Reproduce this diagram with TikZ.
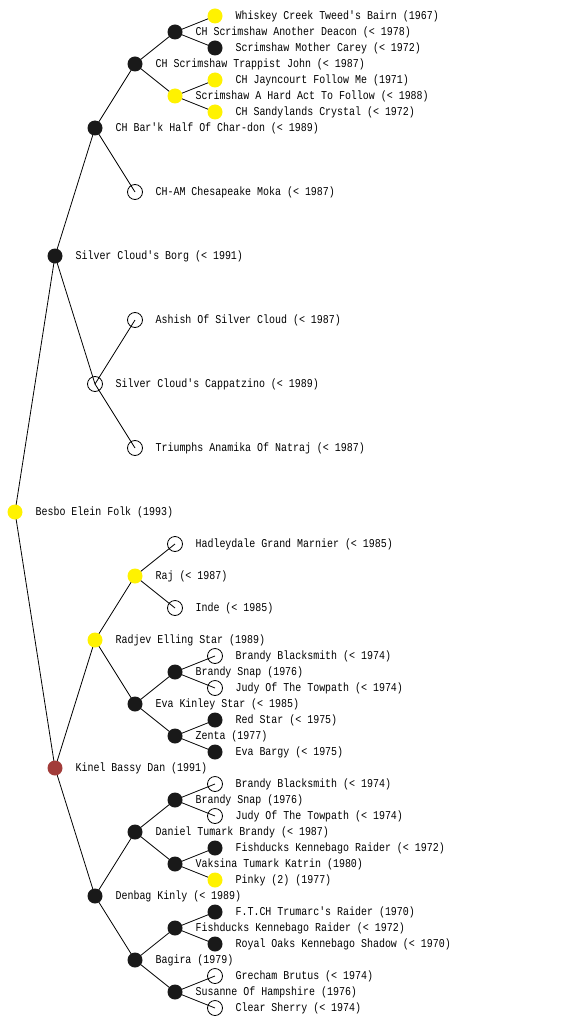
\documentclass[tikz,border=0pt]{standalone}
\usepackage{fontspec}
\newfontfamily\pedfont[FakeStretch=0.83]{Liberation Mono}
\usetikzlibrary{positioning,backgrounds}
\definecolor{kinel}{HTML}{A23C3A}

\begin{document}
\begin{tikzpicture}[
        x=1pt, y=-1pt,
        font=\pedfont\fontsize{12}{14}\selectfont,
        dog/.style={circle, minimum size=15pt, inner sep=0pt, line width=0.8pt},
        opn/.style={dog, draw=black},
        yel/.style={dog, fill=yellow},
        blk/.style={dog, fill=black!90},
        brn/.style={dog, fill=kinel},
        txt/.style={inner sep=0pt, anchor=west},
        edge/.style={line width=0.8pt}
      ]
        \begin{scope}[on background layer]
          \fill[white] (0,0) rectangle (560,1024);
        \end{scope}
        \useasboundingbox (0,0) rectangle (560,1024);

        % generation 0
        \node[yel] (dog) at (15,512) {};
        % generation 1
        \node[blk] (s) at (55,256) {};
        \node[brn] (d) at (55,768) {};
        % generation 2
        \node[blk] (ss) at (95,128) {};
        \node[opn] (sd) at (95,384) {};
        \node[yel] (ds) at (95,640) {};
        \node[blk] (dd) at (95,896) {};
        % generation 3
        \node[blk] (sss) at (135,64) {};
        \node[opn] (ssd) at (135,192) {};
        \node[opn] (sds) at (135,320) {};
        \node[opn] (sdd) at (135,448) {};
        \node[yel] (dss) at (135,576) {};
        \node[blk] (dsd) at (135,704) {};
        \node[blk] (dds) at (135,832) {};
        \node[blk] (ddd) at (135,960) {};
        % generation 4
        \node[blk] (ssss) at (175,32) {};
        \node[yel] (sssd) at (175,96) {};
        \node[opn] (dsss) at (175,544) {};
        \node[opn] (dssd) at (175,608) {};
        \node[blk] (dsds) at (175,672) {};
        \node[blk] (dsdd) at (175,736) {};
        \node[blk] (ddss) at (175,800) {};
        \node[blk] (ddsd) at (175,864) {};
        \node[blk] (ddds) at (175,928) {};
        \node[blk] (dddd) at (175,992) {};
        % generation 5
        \node[yel] (sssss) at (215,16) {};
        \node[blk] (ssssd) at (215,48) {};
        \node[yel] (sssds) at (215,80) {};
        \node[yel] (sssdd) at (215,112) {};
        \node[opn] (dsdss) at (215,656) {};
        \node[opn] (dsdsd) at (215,688) {};
        \node[blk] (dsdds) at (215,720) {};
        \node[blk] (dsddd) at (215,752) {};
        \node[opn] (ddsss) at (215,784) {};
        \node[opn] (ddssd) at (215,816) {};
        \node[blk] (ddsds) at (215,848) {};
        \node[yel] (ddsdd) at (215,880) {};
        \node[blk] (dddss) at (215,912) {};
        \node[blk] (dddsd) at (215,944) {};
        \node[opn] (dddds) at (215,976) {};
        \node[opn] (ddddd) at (215,1008) {};

        % names
        \node[txt, right=12.5pt of dog] (dog-l) {Besbo Elein Folk (1993)};
        \node[txt, right=12.5pt of s] (s-l) {Silver Cloud's Borg (< 1991)};
        \node[txt, right=12.5pt of d] (d-l) {Kinel Bassy Dan (1991)};
        \node[txt, right=12.5pt of ss] (ss-l) {CH Bar'k Half Of Char-don (< 1989)};
        \node[txt, right=12.5pt of sd] (sd-l) {Silver Cloud's Cappatzino (< 1989)};
        \node[txt, right=12.5pt of ds] (ds-l) {Radjev Elling Star (1989)};
        \node[txt, right=12.5pt of dd] (dd-l) {Denbag Kinly (< 1989)};
        \node[txt, right=12.5pt of sss] (sss-l) {CH Scrimshaw Trappist John (< 1987)};
        \node[txt, right=12.5pt of ssd] (ssd-l) {CH-AM Chesapeake Moka (< 1987)};
        \node[txt, right=12.5pt of sds] (sds-l) {Ashish Of Silver Cloud (< 1987)};
        \node[txt, right=12.5pt of sdd] (sdd-l) {Triumphs Anamika Of Natraj (< 1987)};
        \node[txt, right=12.5pt of dss] (dss-l) {Raj (< 1987)};
        \node[txt, right=12.5pt of dsd] (dsd-l) {Eva Kinley Star (< 1985)};
        \node[txt, right=12.5pt of dds] (dds-l) {Daniel Tumark Brandy (< 1987)};
        \node[txt, right=12.5pt of ddd] (ddd-l) {Bagira (1979)};
        \node[txt, right=12.5pt of ssss] (ssss-l) {CH Scrimshaw Another Deacon (< 1978)};
        \node[txt, right=12.5pt of sssd] (sssd-l) {Scrimshaw A Hard Act To Follow (< 1988)};
        \node[txt, right=12.5pt of dsss] (dsss-l) {Hadleydale Grand Marnier (< 1985)};
        \node[txt, right=12.5pt of dssd] (dssd-l) {Inde (< 1985)};
        \node[txt, right=12.5pt of dsds] (dsds-l) {Brandy Snap (1976)};
        \node[txt, right=12.5pt of dsdd] (dsdd-l) {Zenta (1977)};
        \node[txt, right=12.5pt of ddss] (ddss-l) {Brandy Snap (1976)};
        \node[txt, right=12.5pt of ddsd] (ddsd-l) {Vaksina Tumark Katrin (1980)};
        \node[txt, right=12.5pt of ddds] (ddds-l) {Fishducks Kennebago Raider (< 1972)};
        \node[txt, right=12.5pt of dddd] (dddd-l) {Susanne Of Hampshire (1976)};
        \node[txt, right=12.5pt of sssss] (sssss-l) {Whiskey Creek Tweed's Bairn (1967)};
        \node[txt, right=12.5pt of ssssd] (ssssd-l) {Scrimshaw Mother Carey (< 1972)};
        \node[txt, right=12.5pt of sssds] (sssds-l) {CH Jayncourt Follow Me (1971)};
        \node[txt, right=12.5pt of sssdd] (sssdd-l) {CH Sandylands Crystal (< 1972)};
        \node[txt, right=12.5pt of dsdss] (dsdss-l) {Brandy Blacksmith (< 1974)};
        \node[txt, right=12.5pt of dsdsd] (dsdsd-l) {Judy Of The Towpath (< 1974)};
        \node[txt, right=12.5pt of dsdds] (dsdds-l) {Red Star (< 1975)};
        \node[txt, right=12.5pt of dsddd] (dsddd-l) {Eva Bargy (< 1975)};
        \node[txt, right=12.5pt of ddsss] (ddsss-l) {Brandy Blacksmith (< 1974)};
        \node[txt, right=12.5pt of ddssd] (ddssd-l) {Judy Of The Towpath (< 1974)};
        \node[txt, right=12.5pt of ddsds] (ddsds-l) {Fishducks Kennebago Raider (< 1972)};
        \node[txt, right=12.5pt of ddsdd] (ddsdd-l) {Pinky (2) (1977)};
        \node[txt, right=12.5pt of dddss] (dddss-l) {F.T.CH Trumarc's Raider (1970)};
        \node[txt, right=12.5pt of dddsd] (dddsd-l) {Royal Oaks Kennebago Shadow (< 1970)};
        \node[txt, right=12.5pt of dddds] (dddds-l) {Grecham Brutus (< 1974)};
        \node[txt, right=12.5pt of ddddd] (ddddd-l) {Clear Sherry (< 1974)};

        % parent lines, under the filled dots
        \begin{scope}[on background layer]
        \draw[edge] (dog.center) -- (s.center);
        \draw[edge] (dog.center) -- (d.center);
        \draw[edge] (s.center) -- (ss.center);
        \draw[edge] (s.center) -- (sd.center);
        \draw[edge] (d.center) -- (ds.center);
        \draw[edge] (d.center) -- (dd.center);
        \draw[edge] (ss.center) -- (sss.center);
        \draw[edge] (ss.center) -- (ssd.center);
        \draw[edge] (sd.center) -- (sds.center);
        \draw[edge] (sd.center) -- (sdd.center);
        \draw[edge] (ds.center) -- (dss.center);
        \draw[edge] (ds.center) -- (dsd.center);
        \draw[edge] (dd.center) -- (dds.center);
        \draw[edge] (dd.center) -- (ddd.center);
        \draw[edge] (sss.center) -- (ssss.center);
        \draw[edge] (sss.center) -- (sssd.center);
        \draw[edge] (dss.center) -- (dsss.center);
        \draw[edge] (dss.center) -- (dssd.center);
        \draw[edge] (dsd.center) -- (dsds.center);
        \draw[edge] (dsd.center) -- (dsdd.center);
        \draw[edge] (dds.center) -- (ddss.center);
        \draw[edge] (dds.center) -- (ddsd.center);
        \draw[edge] (ddd.center) -- (ddds.center);
        \draw[edge] (ddd.center) -- (dddd.center);
        \draw[edge] (ssss.center) -- (sssss.center);
        \draw[edge] (ssss.center) -- (ssssd.center);
        \draw[edge] (sssd.center) -- (sssds.center);
        \draw[edge] (sssd.center) -- (sssdd.center);
        \draw[edge] (dsds.center) -- (dsdss.center);
        \draw[edge] (dsds.center) -- (dsdsd.center);
        \draw[edge] (dsdd.center) -- (dsdds.center);
        \draw[edge] (dsdd.center) -- (dsddd.center);
        \draw[edge] (ddss.center) -- (ddsss.center);
        \draw[edge] (ddss.center) -- (ddssd.center);
        \draw[edge] (ddsd.center) -- (ddsds.center);
        \draw[edge] (ddsd.center) -- (ddsdd.center);
        \draw[edge] (ddds.center) -- (dddss.center);
        \draw[edge] (ddds.center) -- (dddsd.center);
        \draw[edge] (dddd.center) -- (dddds.center);
        \draw[edge] (dddd.center) -- (ddddd.center);
        \end{scope}
      \end{tikzpicture}
\end{document}
